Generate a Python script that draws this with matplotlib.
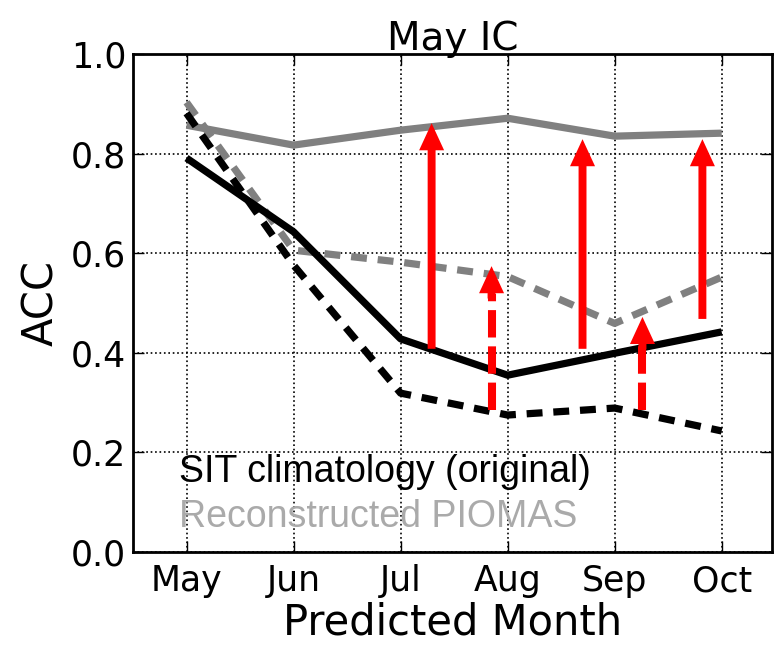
import matplotlib
matplotlib.use("Agg")
import matplotlib.pyplot as plt

months = ["May", "Jun", "Jul", "Aug", "Sep", "Oct"]

# ACC by lead month, May initial conditions
piomas_full = [0.857, 0.817, 0.847, 0.871, 0.835, 0.841]
piomas_clim = [0.903, 0.606, 0.582, 0.553, 0.459, 0.552]
orig_full = [0.791, 0.643, 0.428, 0.355, 0.399, 0.442]
orig_clim = [0.881, 0.576, 0.319, 0.275, 0.289, 0.243]

# improvement arrows: x position, start ACC, end ACC
solid_arrow_x = [2.29, 3.70, 4.82]
solid_arrow_from = [0.408, 0.408, 0.468]
solid_arrow_to = [0.861, 0.829, 0.829]
dashed_arrow_x = [2.85, 4.26]
dashed_arrow_from = [0.285, 0.285]
dashed_arrow_to = [0.574, 0.472]

fig = plt.figure(figsize=(7.75, 6.45), dpi=100)
ax = fig.add_axes([0.1716, 0.1442, 0.8245, 0.7721])

x = range(len(months))
ax.plot(x, piomas_full, color="#808080", lw=5.2, solid_capstyle="butt", zorder=3)
ax.plot(x, piomas_clim, color="#808080", lw=5.2, ls=(0, (2.2, 1.5)), zorder=3)
ax.plot(x, orig_full, color="black", lw=5.2, solid_capstyle="butt", zorder=3)
ax.plot(x, orig_clim, color="black", lw=5.2, ls=(0, (2.2, 1.5)), zorder=3)

head = 0.055
astyle = "simple,head_length=0.65,head_width=0.6,tail_width=0.19"
for xa, y0, y1 in zip(solid_arrow_x, solid_arrow_from, solid_arrow_to):
    ax.annotate("", xy=(xa, y1), xytext=(xa, y0),
                arrowprops=dict(arrowstyle=astyle, mutation_scale=30, color="red",
                                lw=0, shrinkA=0, shrinkB=0), zorder=4)
for xa, y0, y1 in zip(dashed_arrow_x, dashed_arrow_from, dashed_arrow_to):
    ax.plot([xa, xa], [y0, y1 - head], color="red", lw=5.8,
            ls=(0, (3.4, 1.1)), solid_capstyle="butt", zorder=4)
    ax.annotate("", xy=(xa, y1), xytext=(xa, y1 - head - 0.01),
                arrowprops=dict(arrowstyle=astyle, mutation_scale=30, color="red",
                                lw=0, shrinkA=0, shrinkB=0), zorder=4)

ax.text(-0.07, 0.14, "SIT climatology (original)", color="black",
        fontsize=27, family="Liberation Sans", va="baseline")
ax.text(-0.07, 0.05, "Reconstructed PIOMAS", color="#aaaaaa",
        fontsize=27, family="Liberation Sans", va="baseline")

ax.set_xlim(-0.5, 5.47)
ax.set_ylim(0, 1.0)
ax.set_xticks(list(x))
ax.set_xticklabels(months, fontsize=25)
ax.set_yticks([0.0, 0.2, 0.4, 0.6, 0.8, 1.0])
ax.set_yticklabels(["0.0", "0.2", "0.4", "0.6", "0.8", "1.0"], fontsize=25)
ax.tick_params(direction="in", length=8, width=1, top=True, right=True)
ax.tick_params(axis="x", pad=9)
ax.tick_params(axis="y", pad=5)
ax.grid(True, color="black", ls=":", lw=1.2)
for s in ax.spines.values():
    s.set_linewidth(2)

ax.set_xlabel("Predicted Month", fontsize=30, labelpad=2)
ax.set_ylabel("ACC", fontsize=30, labelpad=6)
ax.set_title("May IC", fontsize=28, pad=3)

fig.savefig("out.png", dpi=100)
